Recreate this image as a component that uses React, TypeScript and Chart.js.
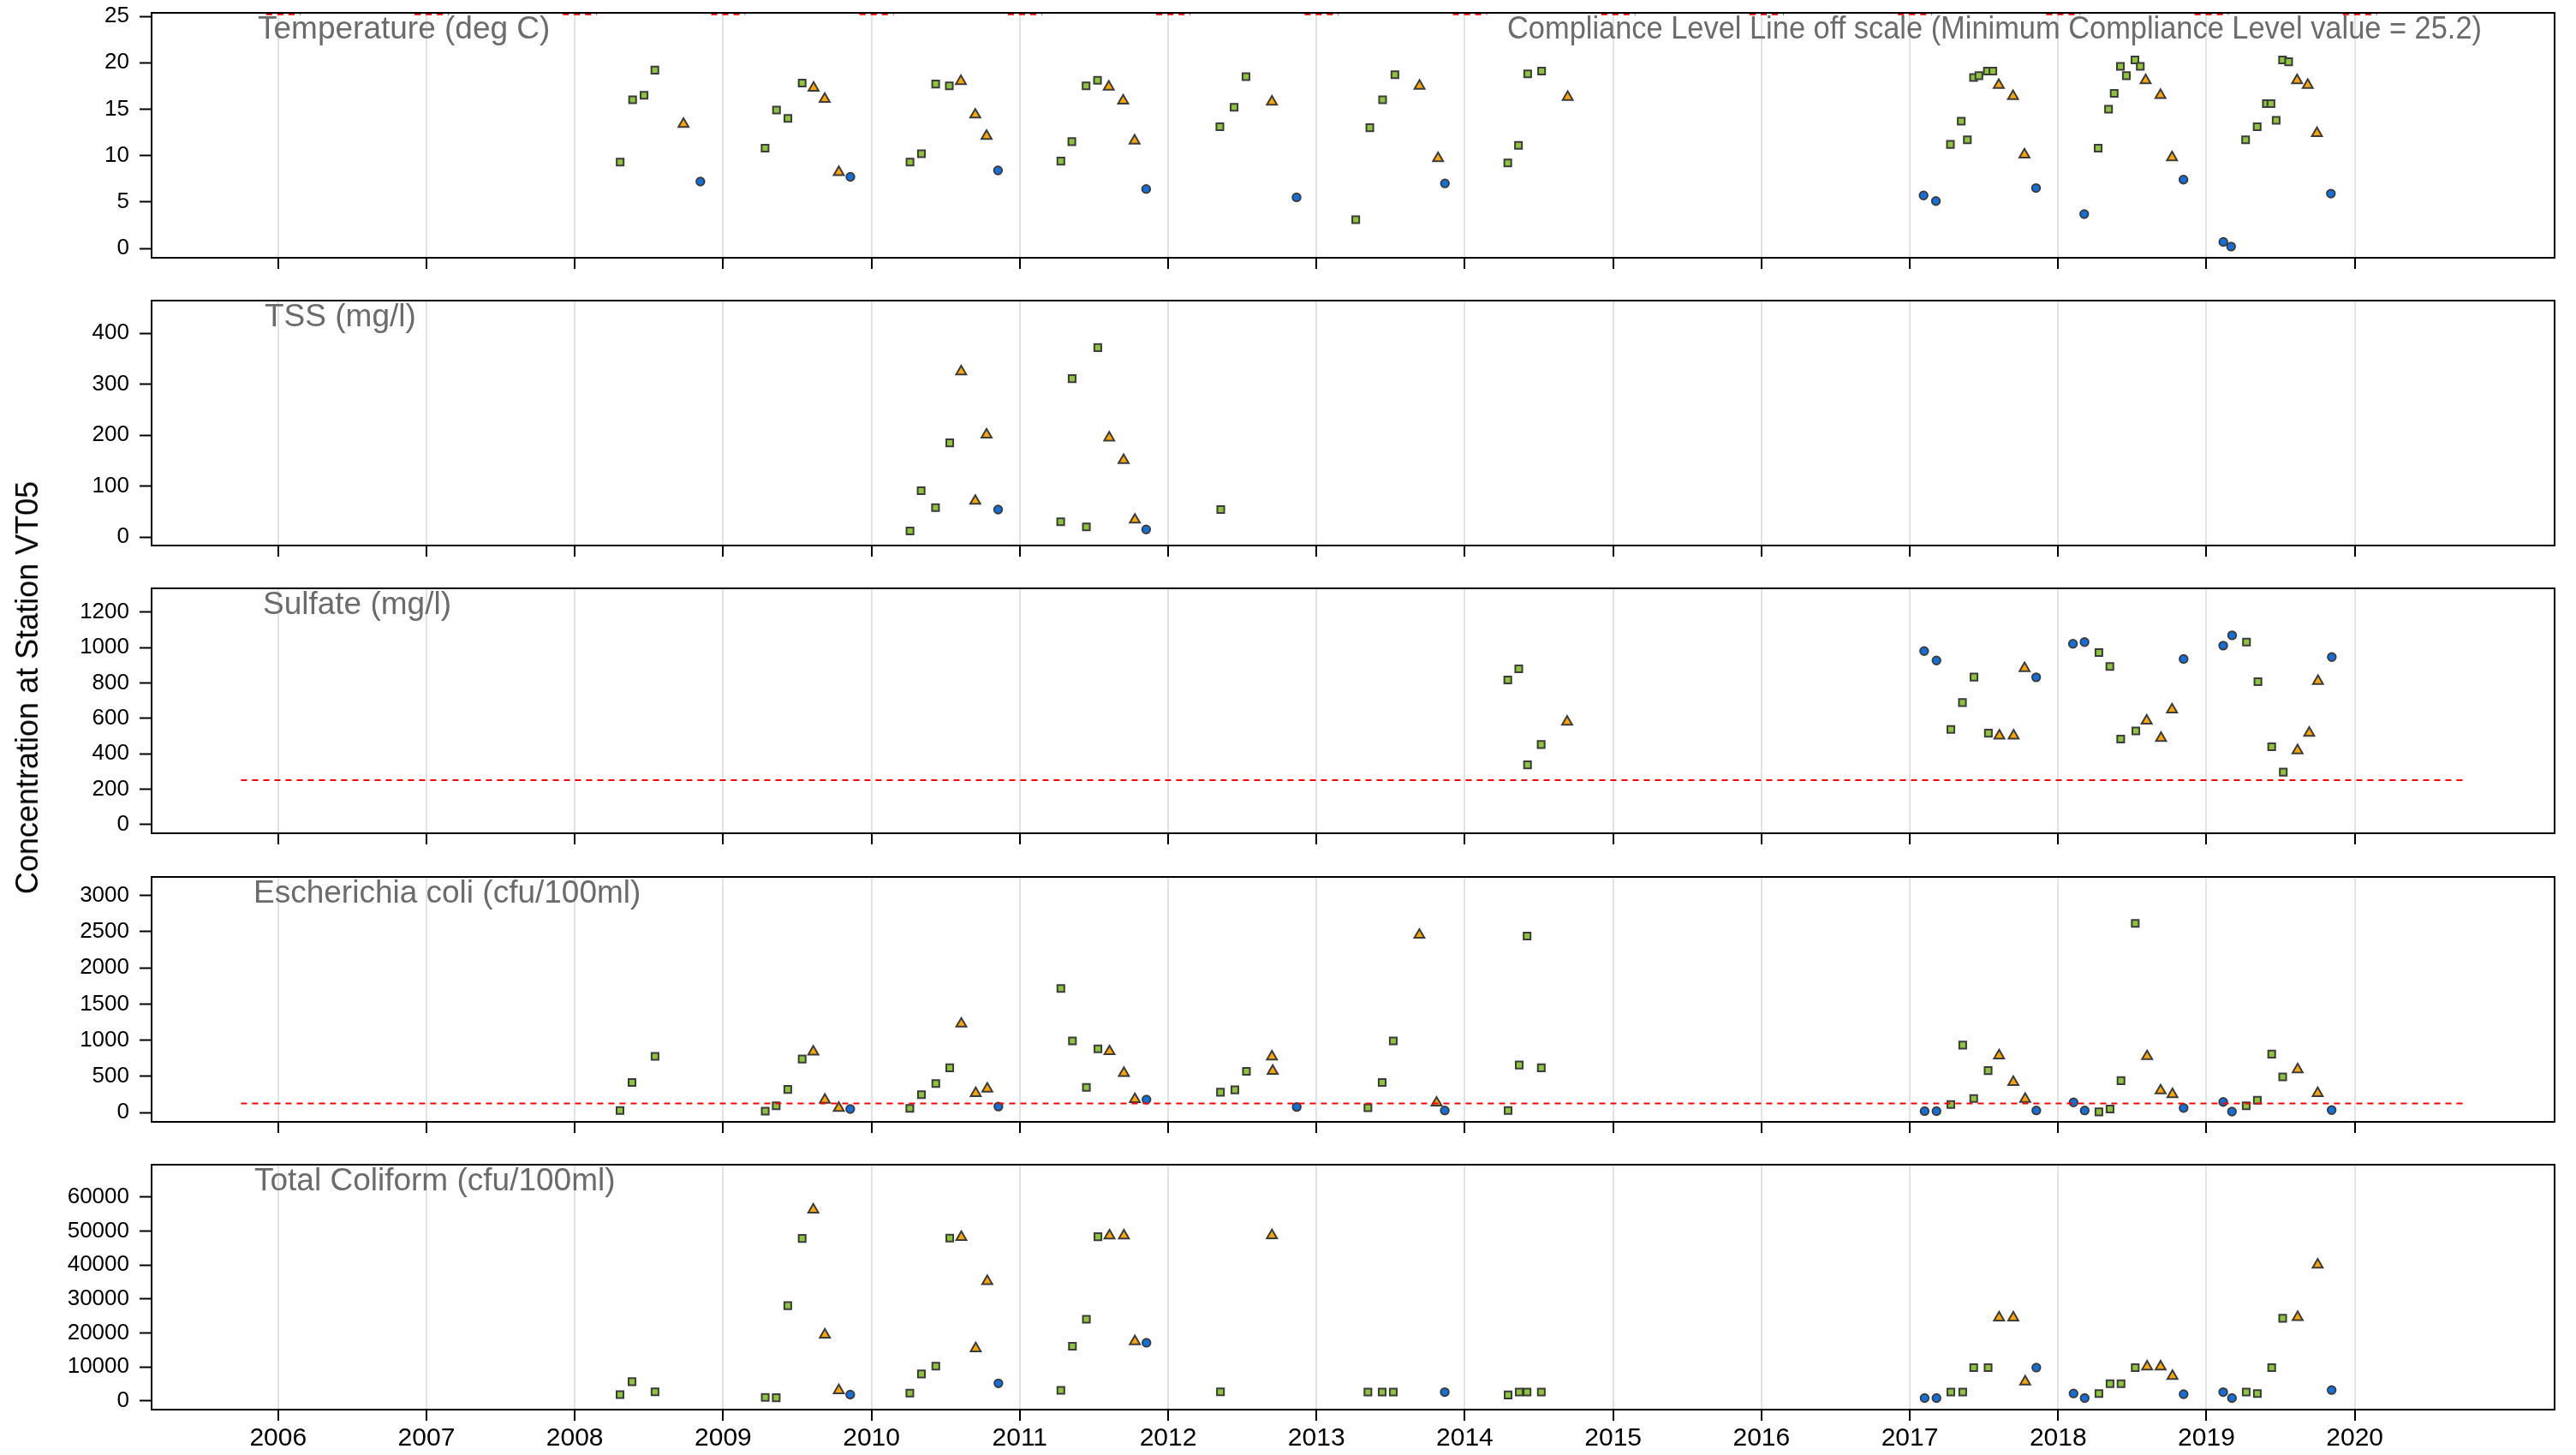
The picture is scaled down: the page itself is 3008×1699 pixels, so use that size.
import React, { useEffect, useRef } from 'react';
import { Chart, registerables } from 'chart.js';
Chart.register(...registerables);

const FONT = '"Liberation Sans", Arial, Helvetica, sans-serif';
Chart.defaults.font.family = FONT;

// ---------------- data ----------------
const yearTicks = [2006, 2007, 2008, 2009, 2010, 2011, 2012, 2013, 2014, 2015, 2016, 2017, 2018, 2019, 2020];

// Temperature (deg C)
const tempX = [2008.306, 2008.39, 2008.467, 2008.54, 2008.733, 2008.847, 2009.283, 2009.36, 2009.437, 2009.533, 2009.61, 2009.685, 2009.78, 2009.858, 2010.26, 2010.337, 2010.433, 2010.525, 2010.603, 2010.7, 2010.776, 2010.853, 2011.277, 2011.351, 2011.447, 2011.524, 2011.6, 2011.697, 2011.774, 2011.852, 2012.349, 2012.445, 2012.525, 2012.7, 2012.866, 2013.265, 2013.36, 2013.446, 2013.529, 2013.695, 2013.82, 2013.866, 2014.29, 2014.362, 2014.424, 2014.518, 2014.694, 2017.093, 2017.176, 2017.274, 2017.347, 2017.388, 2017.43, 2017.466, 2017.523, 2017.56, 2017.6, 2017.696, 2017.773, 2017.851, 2018.176, 2018.27, 2018.34, 2018.378, 2018.42, 2018.46, 2018.518, 2018.554, 2018.59, 2018.69, 2018.768, 2018.845, 2019.114, 2019.166, 2019.264, 2019.342, 2019.404, 2019.435, 2019.47, 2019.513, 2019.554, 2019.611, 2019.683, 2019.745, 2019.839];
const tempY = [9.3, 16.0, 16.5, 19.2, 13.4, 7.2, 10.8, 14.9, 14.0, 17.8, 17.3, 16.1, 8.2, 7.7, 9.3, 10.2, 17.7, 17.5, 18.0, 14.4, 12.1, 8.4, 9.4, 11.5, 17.5, 18.1, 17.4, 15.9, 11.6, 6.4, 13.1, 15.2, 18.5, 15.8, 5.5, 3.1, 13.0, 16.0, 18.7, 17.5, 9.7, 7.0, 9.2, 11.1, 18.8, 19.1, 16.3, 5.7, 5.1, 11.2, 13.7, 11.7, 18.4, 18.6, 19.1, 19.1, 17.6, 16.4, 10.1, 6.5, 3.7, 10.8, 15.0, 16.7, 19.6, 18.6, 20.3, 19.6, 18.1, 16.5, 9.8, 7.4, 0.7, 0.2, 11.7, 13.1, 15.6, 15.6, 13.8, 20.3, 20.1, 18.1, 17.6, 12.4, 5.9];
const tempS = ['G', 'G', 'G', 'G', 'O', 'B', 'G', 'G', 'G', 'G', 'O', 'O', 'O', 'B', 'G', 'G', 'G', 'G', 'O', 'O', 'O', 'B', 'G', 'G', 'G', 'G', 'O', 'O', 'O', 'B', 'G', 'G', 'G', 'O', 'B', 'G', 'G', 'G', 'G', 'O', 'O', 'B', 'G', 'G', 'G', 'G', 'O', 'B', 'B', 'G', 'G', 'G', 'G', 'G', 'G', 'G', 'O', 'O', 'O', 'B', 'B', 'G', 'G', 'G', 'G', 'G', 'G', 'G', 'O', 'O', 'O', 'B', 'B', 'B', 'G', 'G', 'G', 'G', 'G', 'G', 'G', 'O', 'O', 'O', 'B'];
const tempLimit = 25.2;
const tempLimitStart = [2005.92, 2006.92, 2007.92, 2008.92, 2009.92, 2010.92, 2011.92, 2012.92, 2013.92, 2014.92, 2015.92, 2016.92, 2017.92, 2018.92, 2019.92];
const tempLimitEnd = [2006.15, 2007.15, 2008.15, 2009.15, 2010.15, 2011.15, 2012.15, 2013.15, 2014.15, 2015.15, 2016.15, 2017.15, 2018.15, 2019.15, 2020.15];

// TSS (mg/l)
const tssX = [2010.26, 2010.335, 2010.432, 2010.528, 2010.605, 2010.7, 2010.776, 2010.854, 2011.276, 2011.353, 2011.449, 2011.526, 2011.603, 2011.7, 2011.776, 2011.852, 2012.355];
const tssY = [12, 91, 58, 185, 325, 71, 201, 54, 30, 311, 20, 372, 195, 151, 34, 15, 54];
const tssS = ['G', 'G', 'G', 'G', 'O', 'O', 'O', 'B', 'G', 'G', 'G', 'G', 'O', 'O', 'O', 'B', 'G'];

// Sulfate (mg/l)
const sulfX = [2014.29, 2014.364, 2014.423, 2014.515, 2014.69, 2017.097, 2017.18, 2017.277, 2017.355, 2017.433, 2017.53, 2017.604, 2017.7, 2017.774, 2017.852, 2018.1, 2018.178, 2018.275, 2018.349, 2018.422, 2018.524, 2018.597, 2018.694, 2018.768, 2018.846, 2019.113, 2019.173, 2019.27, 2019.347, 2019.44, 2019.518, 2019.614, 2019.693, 2019.752, 2019.845];
const sulfY = [817, 880, 337, 452, 580, 980, 927, 537, 689, 833, 516, 502, 502, 883, 832, 1021, 1031, 972, 893, 483, 529, 587, 489, 649, 935, 1011, 1069, 1031, 807, 439, 296, 418, 518, 810, 946];
const sulfS = ['G', 'G', 'G', 'G', 'O', 'B', 'B', 'G', 'G', 'G', 'G', 'O', 'O', 'O', 'B', 'B', 'B', 'G', 'G', 'G', 'G', 'O', 'O', 'O', 'B', 'B', 'B', 'G', 'G', 'G', 'G', 'O', 'O', 'O', 'B'];
const sulfLimit = 250;
const sulfLimitRange = [2005.75, 2020.75];

// Escherichia coli (cfu/100ml)
const ecoliX = [2008.305, 2008.386, 2008.541, 2009.284, 2009.358, 2009.436, 2009.533, 2009.608, 2009.686, 2009.78, 2009.857, 2010.259, 2010.337, 2010.434, 2010.528, 2010.606, 2010.703, 2010.781, 2010.856, 2011.277, 2011.355, 2011.449, 2011.527, 2011.605, 2011.702, 2011.776, 2011.854, 2012.353, 2012.45, 2012.528, 2012.7, 2012.705, 2012.867, 2013.347, 2013.443, 2013.518, 2013.694, 2013.81, 2013.865, 2014.292, 2014.367, 2014.42, 2014.516, 2017.1, 2017.18, 2017.277, 2017.357, 2017.431, 2017.528, 2017.602, 2017.698, 2017.778, 2017.853, 2018.104, 2018.179, 2018.275, 2018.35, 2018.424, 2018.52, 2018.6, 2018.691, 2018.771, 2018.846, 2019.113, 2019.172, 2019.268, 2019.343, 2019.44, 2019.514, 2019.615, 2019.75, 2019.844];
const ecoliY = [28, 414, 777, 19, 91, 319, 739, 841, 173, 62, 47, 57, 245, 400, 618, 1227, 265, 328, 82, 1716, 990, 347, 879, 845, 545, 182, 178, 280, 313, 570, 772, 575, 76, 66, 415, 990, 2456, 134, 28, 28, 656, 2441, 618, 19, 19, 110, 932, 192, 579, 787, 419, 187, 28, 140, 28, 8, 47, 440, 2615, 777, 303, 250, 62, 145, 13, 91, 168, 807, 493, 594, 265, 33];
const ecoliS = ['G', 'G', 'G', 'G', 'G', 'G', 'G', 'O', 'O', 'O', 'B', 'G', 'G', 'G', 'G', 'O', 'O', 'O', 'B', 'G', 'G', 'G', 'G', 'O', 'O', 'O', 'B', 'G', 'G', 'G', 'O', 'O', 'B', 'G', 'G', 'G', 'O', 'O', 'B', 'G', 'G', 'G', 'G', 'B', 'B', 'G', 'G', 'G', 'G', 'O', 'O', 'O', 'B', 'B', 'B', 'G', 'G', 'G', 'G', 'O', 'O', 'O', 'B', 'B', 'B', 'G', 'G', 'G', 'G', 'O', 'O', 'B'];
const ecoliLimit = 126;
const ecoliLimitRange = [2005.75, 2020.75];

// Total Coliform (cfu/100ml)
const tcX = [2008.305, 2008.386, 2008.541, 2009.284, 2009.358, 2009.436, 2009.533, 2009.608, 2009.686, 2009.78, 2009.857, 2010.259, 2010.337, 2010.434, 2010.528, 2010.606, 2010.703, 2010.781, 2010.856, 2011.277, 2011.355, 2011.449, 2011.527, 2011.605, 2011.702, 2011.776, 2011.854, 2012.353, 2012.7, 2013.347, 2013.443, 2013.518, 2013.865, 2014.292, 2014.367, 2014.42, 2014.516, 2017.1, 2017.18, 2017.277, 2017.357, 2017.431, 2017.528, 2017.602, 2017.698, 2017.778, 2017.853, 2018.104, 2018.179, 2018.275, 2018.35, 2018.424, 2018.52, 2018.6, 2018.691, 2018.771, 2018.846, 2019.113, 2019.172, 2019.268, 2019.343, 2019.44, 2019.514, 2019.615, 2019.75, 2019.844];
const tcY = [1890, 5700, 2720, 1080, 980, 28050, 47830, 56260, 19500, 3130, 1890, 2310, 7970, 10240, 47930, 48240, 15490, 35270, 5200, 3130, 16120, 24040, 48340, 48640, 48640, 17560, 17150, 2720, 48740, 2620, 2620, 2620, 2620, 1790, 2620, 2620, 2620, 880, 880, 2620, 2620, 9840, 9840, 24550, 24550, 5700, 9840, 2220, 880, 2220, 5100, 5100, 9840, 10140, 10140, 7370, 2020, 2620, 880, 2620, 2220, 9840, 24340, 24650, 40100, 3230];
const tcS = ['G', 'G', 'G', 'G', 'G', 'G', 'G', 'O', 'O', 'O', 'B', 'G', 'G', 'G', 'G', 'O', 'O', 'O', 'B', 'G', 'G', 'G', 'G', 'O', 'O', 'O', 'B', 'G', 'O', 'G', 'G', 'G', 'B', 'G', 'G', 'G', 'G', 'B', 'B', 'G', 'G', 'G', 'G', 'O', 'O', 'O', 'B', 'B', 'B', 'G', 'G', 'G', 'G', 'O', 'O', 'O', 'B', 'B', 'B', 'G', 'G', 'G', 'G', 'O', 'O', 'B'];

const tempTicks = [0, 5, 10, 15, 20, 25];
const tssTicks = [0, 100, 200, 300, 400];
const sulfTicks = [0, 200, 400, 600, 800, 1000, 1200];
const ecoliTicks = [0, 500, 1000, 1500, 2000, 2500, 3000];
const tcTicks = [0, 10000, 20000, 30000, 40000, 50000, 60000];

const panelTitles = ['Temperature (deg C)', 'TSS (mg/l)', 'Sulfate (mg/l)', 'Escherichia coli (cfu/100ml)', 'Total Coliform (cfu/100ml)'];
const tempNote = 'Compliance Level Line off scale (Minimum Compliance Level value = 25.2)';
const yAxisTitle = 'Concentration at Station VT05';

// ---------------- styles / layout ----------------
const W = 3008;
const H = 1699;
const AREA_LEFT = 177;
const AREA_RIGHT = 2983;
const YW = 120;
const PAD_T = 10;
const PANEL_H = 286;
const PANEL_TOPS = [15, 351, 687, 1024, 1360];
const X_MIN = 2005.147;
const X_MAX = 2021.347;
const GREEN = '#8CC43A';
const ORANGE = '#FFA500';
const BLUE = '#1170DC';
const EDGE = '#3c3c3c';
const TITLE_GRAY = '#6b6b6b';

type PanelCfg = {
  title: string;
  titleX: number;
  xs: number[];
  ys: number[];
  ss: string[];
  yMin: number;
  yMax: number;
  ticks: number[];
  limit?: { x: number; y: number | null }[];
  note?: string;
};

function limitSegments(starts: number[], ends: number[], v: number) {
  const out: { x: number; y: number | null }[] = [];
  starts.forEach((s, i) => {
    out.push({ x: s, y: v });
    out.push({ x: ends[i], y: v });
    if (i < starts.length - 1) out.push({ x: (ends[i] + starts[i + 1]) / 2, y: null });
  });
  return out;
}

const panels: PanelCfg[] = [
  { title: panelTitles[0], titleX: 301, xs: tempX, ys: tempY, ss: tempS, yMin: -1.01, yMax: 25.37, ticks: tempTicks,
    limit: limitSegments(tempLimitStart, tempLimitEnd, tempLimit), note: tempNote },
  { title: panelTitles[1], titleX: 309, xs: tssX, ys: tssY, ss: tssS, yMin: -16.5, yMax: 464.2, ticks: tssTicks },
  { title: panelTitles[2], titleX: 307, xs: sulfX, ys: sulfY, ss: sulfS, yMin: -49.5, yMax: 1334.6, ticks: sulfTicks,
    limit: limitSegments([sulfLimitRange[0]], [sulfLimitRange[1]], sulfLimit) },
  { title: panelTitles[3], titleX: 296, xs: ecoliX, ys: ecoliY, ss: ecoliS, yMin: -130, yMax: 3258, ticks: ecoliTicks,
    limit: limitSegments([ecoliLimitRange[0]], [ecoliLimitRange[1]], ecoliLimit) },
  { title: panelTitles[4], titleX: 297, xs: tcX, ys: tcY, ss: tcS, yMin: -2523, yMax: 69526, ticks: tcTicks },
];

const seriesStyle: Record<string, { color: string; style: string; r: number }> = {
  G: { color: GREEN, style: 'rect', r: 5.7 },
  O: { color: ORANGE, style: 'triangle', r: 6.8 },
  B: { color: BLUE, style: 'circle', r: 4.7 },
};

function zeroPad(ax: any) {
  ax.paddingTop = 0;
  ax.paddingBottom = 0;
  ax.paddingLeft = 0;
  ax.paddingRight = 0;
}

function PanelChart({ cfg, top, isLast }: { cfg: PanelCfg; top: number; isLast: boolean }) {
  const ref = useRef<HTMLCanvasElement>(null);
  const axisH = isLast ? 50 : 20;
  const ch = PAD_T + PANEL_H + axisH;
  useEffect(() => {
    const canvas = ref.current!;
    const datasets: any[] = [];
    if (cfg.limit) {
      datasets.push({
        label: 'limit',
        data: cfg.limit,
        showLine: true,
        spanGaps: false,
        borderColor: '#ff0000',
        borderWidth: 2,
        borderDash: [7, 6],
        pointRadius: 0,
        order: -1,
      });
    }
    ['G', 'O', 'B'].forEach((code) => {
      const st = seriesStyle[code];
      const data = cfg.xs
        .map((x, i) => ({ x, y: cfg.ys[i], s: cfg.ss[i] }))
        .filter((p) => p.s === code)
        .map((p) => ({ x: p.x, y: p.y }));
      datasets.push({
        label: code,
        data,
        pointStyle: st.style,
        pointRadius: st.r,
        pointBackgroundColor: st.color,
        pointBorderColor: EDGE,
        pointBorderWidth: 2,
        backgroundColor: st.color,
        borderColor: EDGE,
        order: 1,
      });
    });

    const framePlugin = {
      id: 'frame',
      afterDatasetsDraw(chart: any) {
        const { ctx, chartArea } = chart;
        ctx.save();
        ctx.strokeStyle = '#000';
        ctx.lineWidth = 2;
        ctx.strokeRect(chartArea.left, chartArea.top, chartArea.right - chartArea.left, chartArea.bottom - chartArea.top);
        ctx.restore();
      },
      afterDraw(chart: any) {
        const { ctx, chartArea } = chart;
        ctx.save();
        ctx.fillStyle = TITLE_GRAY;
        ctx.font = `37px ${FONT}`;
        ctx.textBaseline = 'alphabetic';
        ctx.textAlign = 'left';
        ctx.fillText(cfg.title, cfg.titleX, chartArea.top + 29.5);
        if (cfg.note) {
          ctx.textAlign = 'right';
          ctx.fillText(cfg.note, 2898, chartArea.top + 29.5, 1138);
        }
        ctx.restore();
      },
    };

    const chart = new Chart(canvas, {
      type: 'scatter',
      data: { datasets },
      options: {
        animation: false,
        responsive: false,
        devicePixelRatio: 1,
        events: [],
        layout: { padding: { left: AREA_LEFT - YW, right: W - AREA_RIGHT, top: PAD_T, bottom: 0 } },
        plugins: { legend: { display: false }, tooltip: { enabled: false }, title: { display: false } },
        scales: {
          x: {
            type: 'linear',
            position: 'bottom',
            min: X_MIN,
            max: X_MAX,
            afterBuildTicks: (ax: any) => {
              ax.ticks = yearTicks.map((v) => ({ value: v }));
            },
            afterFit: (ax: any) => {
              ax.height = axisH;
              zeroPad(ax);
            },
            grid: { color: '#e3e3e3', lineWidth: 2, drawTicks: true, tickLength: 13, tickColor: '#000', tickWidth: 2 },
            border: { display: true, color: '#000', width: 2 },
            ticks: {
              display: isLast,
              autoSkip: false,
              maxRotation: 0,
              padding: 3,
              color: '#000',
              font: { size: 30, family: FONT },
              callback: (v: any) => String(v),
            },
          },
          y: {
            type: 'linear',
            position: 'left',
            min: cfg.yMin,
            max: cfg.yMax,
            afterBuildTicks: (ax: any) => {
              ax.ticks = cfg.ticks.map((v) => ({ value: v }));
            },
            afterFit: (ax: any) => {
              ax.width = YW;
              zeroPad(ax);
            },
            grid: { drawOnChartArea: false, drawTicks: true, tickLength: 14, tickColor: '#000', tickWidth: 2 },
            border: { display: true, color: '#000', width: 2 },
            ticks: {
              autoSkip: false,
              padding: 12,
              color: '#000',
              font: { size: 26, family: FONT },
              callback: (v: any) => String(v),
            },
          },
        },
      } as any,
      plugins: [framePlugin],
    });
    return () => chart.destroy();
  }, []);
  return (
    <canvas
      ref={ref}
      width={W}
      height={ch}
      style={{ position: 'absolute', left: 0, top: top - PAD_T, width: W, height: ch }}
    />
  );
}

export default function App() {
  return (
    <div style={{ position: 'fixed', left: 0, top: 0, width: W, height: H, overflow: 'hidden', background: '#fff', fontFamily: FONT }}>
      {panels.map((p, i) => (
        <PanelChart key={i} cfg={p} top={PANEL_TOPS[i]} isLast={i === panels.length - 1} />
      ))}
      <div
        style={{
          position: 'absolute',
          left: 32,
          top: 803,
          transform: 'translate(-50%, -50%) rotate(-90deg)',
          fontSize: 36,
          color: '#000',
          whiteSpace: 'nowrap',
          fontFamily: FONT,
        }}
      >
        {yAxisTitle}
      </div>
    </div>
  );
}
